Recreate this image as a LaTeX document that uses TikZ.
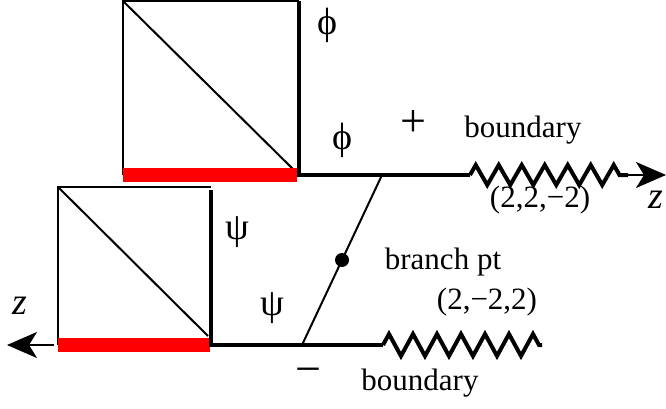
\documentclass[tikz,border=0pt]{standalone}
\usepackage{fontspec}
\setmainfont{Liberation Serif}
\usepackage{tikz}
\usetikzlibrary{arrows.meta,calc,decorations.pathmorphing}
\tikzset{
  lbl/.style      = {inner sep=0pt,font=\fontsize{31}{36}\selectfont},
  big/.style      = {inner sep=0pt,font=\fontsize{38}{44}\selectfont},
  sign/.style     = {inner sep=0pt,font=\fontsize{46}{52}\selectfont},
  thinline/.style = {line width=2pt},
  wall/.style     = {line width=4.4pt},
  redbar/.style   = {red,line width=14pt},
  cutline/.style  = {line width=4pt,decorate,
                     decoration={zigzag,segment length=23pt,amplitude=10pt}},
  zarr/.style     = {-{Stealth[length=30pt,width=26pt,inset=8pt]},line width=2.2pt}
}

\begin{document}
\begin{tikzpicture}[x=1pt,y=-1pt]
  \useasboundingbox (0,0) rectangle (666,409);
  \coordinate (uTL) at (123,1);   \coordinate (uTR) at (299,1);
  \coordinate (uBL) at (123,175); \coordinate (uBR) at (299,175);
  \coordinate (lTL) at (58,187);  \coordinate (lTR) at (211,187);
  \coordinate (lBL) at (58,345);  \coordinate (lBR) at (211,345);
  \coordinate (uCut) at (470,175); \coordinate (uEnd) at (628,175);
  \coordinate (uTip) at (666,175);
  \coordinate (lCut) at (383,345); \coordinate (lEnd) at (542,345);
  \coordinate (lTip) at (7,345);
  \coordinate (bTop) at (382,175); \coordinate (bBot) at (302,345);
  \draw[thinline] (uBL) -- (uTL) -- (uTR);
  \draw[thinline] (uTL) -- (uBR);
  \draw[redbar] (uBL) -- ([xshift=-2pt]uBR);
  \draw[wall] (uTR) -- (uBR) -- (uCut);
  \draw[cutline] (uCut) -- (uEnd);
  \draw[zarr] (uEnd) -- (uTip);
  \draw[thinline] (lBL) -- (lTL) -- (lTR);
  \draw[thinline] (lTL) -- ([xshift=-3pt,yshift=9pt]lBR);
  \draw[redbar] (lBL) -- ([xshift=-1pt]lBR);
  \draw[wall] ([yshift=-3pt]lTR) -- (lBR) -- (lCut);
  \draw[cutline,decoration={segment length=24pt,amplitude=11pt}] (lCut) -- (lEnd);
  \draw[zarr] ([xshift=-4pt]lBL) -- (lTip);
  \draw[thinline] (bBot) -- (bTop);
  \coordinate (bpt) at ($(bBot)!0.5!(bTop)$);
  \fill (bpt) circle (7pt);
  \node[big] (phiA) at (327,25)  {ϕ};
  \node[big] (phiB) at (342,140) {ϕ};
  \node[sign] (plus) at (413,124) {+};
  \node[lbl] (bdA)  at (523,130) {boundary};
  \node[lbl] (valA) at (540,200) {(2,2,−2)};
  \node[big] (zA)   at (656,200) {\itshape z};
  \node[big] (psiA) at (237,232) {ψ};
  \node[big] (psiB) at (272,308) {ψ};
  \node[big] (zB)   at (20,306)  {\itshape z};
  \node[lbl] (bpLb) at (443,262) {branch pt};
  \node[lbl] (valB) at (487,302) {(2,−2,2)};
  \node[sign] (minus) at (308,376) {−};
  \node[lbl] (bdB)  at (420,383) {boundary};
\end{tikzpicture}
\end{document}
